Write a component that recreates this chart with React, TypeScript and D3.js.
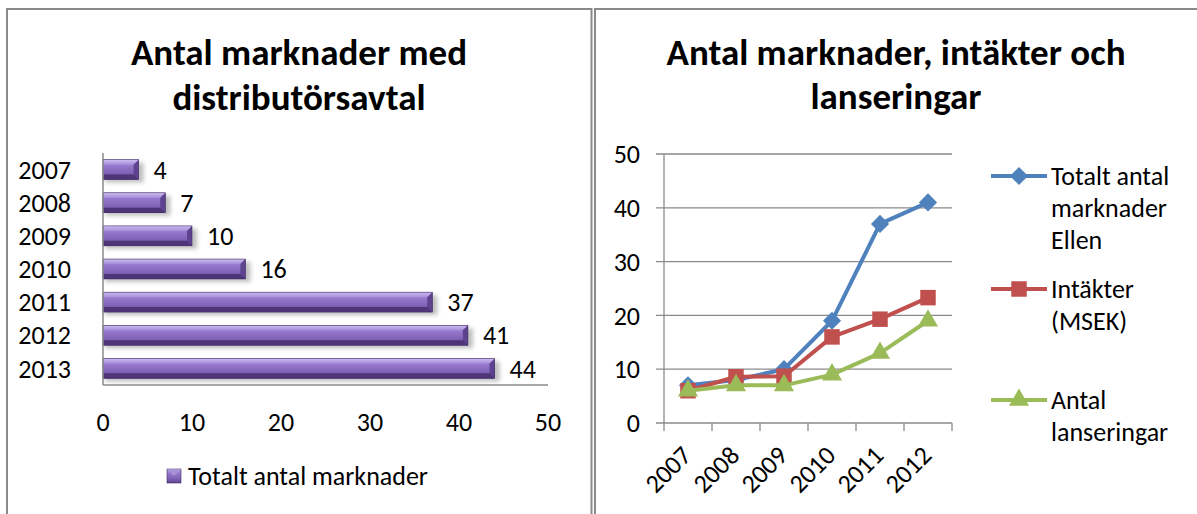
import React from "react";
import * as d3 from "d3";

// left chart: markets with distributor agreements
const barYears = ["2007", "2008", "2009", "2010", "2011", "2012", "2013"];
const barValues = [4, 7, 10, 16, 37, 41, 44];
const barTicks = [0, 10, 20, 30, 40, 50];

// right chart: markets, revenue and launches
const lineYears = ["2007", "2008", "2009", "2010", "2011", "2012"];
const totalMarkets = [7, 8, 10, 19, 37, 41];
const revenue = [6, 8.6, 8.7, 16, 19.3, 23.3];
const launches = [6, 7, 7, 9, 13, 19];
const lineTicks = [0, 10, 20, 30, 40, 50];

const FONT = "Carlito, Calibri, Lato, sans-serif";
const W = 1197;
const H = 514;
const LBL = 26; // label font size
const TTL = 37; // title font size

const series = [
  { key: "total", label: ["Totalt antal", "marknader", "Ellen"], values: totalMarkets, color: "#4F81BD", symbol: "diamond", legendY: 176 },
  { key: "rev", label: ["Intäkter", "(MSEK)"], values: revenue, color: "#C0504D", symbol: "square", legendY: 289 },
  { key: "launch", label: ["Antal", "lanseringar"], values: launches, color: "#9BBB59", symbol: "triangle", legendY: 400 },
];

function marker(type: string) {
  if (type === "diamond") return d3.symbol(d3.symbolSquare, 165)();
  if (type === "square") return d3.symbol(d3.symbolSquare, 240)();
  return d3.symbol(d3.symbolTriangle, 175)();
}

function BarChart() {
  const x = d3.scaleLinear().domain([0, 50]).range([103, 548]);
  const y = d3.scaleBand<string>().domain(barYears).range([153, 385]).paddingInner(0.4).paddingOuter(0.2);
  const bh = y.bandwidth();
  const bev = 5;

  return (
    <g>
      <rect x={7} y={9} width={584.5} height={H + 20} fill="#fff" stroke="#8a8a8a" strokeWidth={2} />
      <text x={299} y={65} textAnchor="middle" fontSize={TTL} fontWeight="bold">Antal marknader med</text>
      <text x={299} y={110} textAnchor="middle" fontSize={TTL} fontWeight="bold">distributörsavtal</text>

      {barYears.map((yr, i) => {
        const y0 = y(yr)!;
        const x0 = x(0);
        const x1 = x(barValues[i]);
        return (
          <g key={yr}>
            <rect x={x0 + 2} y={y0 + 3} width={x1 - x0 + 3} height={bh} fill="#000" opacity={0.25} filter="url(#blur)" />
            <rect x={x0} y={y0} width={x1 - x0} height={bh} fill="url(#barGrad)" />
            <polygon points={`${x0},${y0} ${x1},${y0} ${x1 - bev},${y0 + bev} ${x0},${y0 + bev}`} fill="url(#topGrad)" />
            <polygon points={`${x0},${y0 + bh} ${x1},${y0 + bh} ${x1 - bev},${y0 + bh - bev} ${x0},${y0 + bh - bev}`} fill="#4e3578" />
            <polygon points={`${x1},${y0} ${x1},${y0 + bh} ${x1 - bev},${y0 + bh - bev} ${x1 - bev},${y0 + bev}`} fill="#5d4290" />
            <rect x={x0} y={y0} width={x1 - x0} height={bh} fill="none" stroke="#3f2a63" strokeWidth={0.6} />
            <text x={x1 + 15} y={y0 + bh / 2} dy="0.35em" fontSize={LBL}>{barValues[i]}</text>
            <text x={71} y={y0 + bh / 2} dy="0.35em" fontSize={LBL} textAnchor="end">{yr}</text>
          </g>
        );
      })}

      <line x1={x(0)} x2={x(0)} y1={153} y2={385} stroke="#8a8a8a" strokeWidth={1.5} />
      <line x1={x(0)} x2={x(50)} y1={385} y2={385} stroke="#8a8a8a" strokeWidth={1.5} />
      {barTicks.map((t) => (
        <text key={t} x={x(t)} y={422} dy="0.35em" fontSize={LBL} textAnchor="middle">{t}</text>
      ))}

      <g>
        <rect x={167} y={469} width={14} height={14} fill="url(#barGrad)" stroke="#3f2a63" strokeWidth={0.6} />
        <polygon points="167,469 181,469 174,476" fill="#a892d6" />
        <text x={188} y={476} dy="0.35em" fontSize={LBL}>Totalt antal marknader</text>
      </g>
    </g>
  );
}

function LineChart() {
  const x = d3.scaleBand<string>().domain(lineYears).range([664, 952]);
  const y = d3.scaleLinear().domain([0, 50]).range([423, 154]);
  const cx = (yr: string) => x(yr)! + x.bandwidth() / 2;
  const line = d3
    .line<number>()
    .x((_, i) => cx(lineYears[i]))
    .y((d) => y(d));
  const bounds = [...lineYears.map((yr) => x(yr)!), 952];

  return (
    <g>
      <rect x={595} y={9} width={640} height={H + 20} fill="#fff" stroke="#8a8a8a" strokeWidth={2} />
      <text x={896} y={65} textAnchor="middle" fontSize={TTL} fontWeight="bold">Antal marknader, intäkter och</text>
      <text x={896} y={109} textAnchor="middle" fontSize={TTL} fontWeight="bold">lanseringar</text>

      {lineTicks.map((t) => (
        <g key={t}>
          <line x1={656} x2={952} y1={y(t)} y2={y(t)} stroke="#8a8a8a" strokeWidth={1.3} />
          <text x={640} y={y(t)} dy="0.35em" fontSize={LBL} textAnchor="end">{t}</text>
        </g>
      ))}
      <line x1={664} x2={664} y1={154} y2={423} stroke="#8a8a8a" strokeWidth={1.3} />
      {bounds.map((bx, i) => (
        <line key={i} x1={bx} x2={bx} y1={423} y2={431} stroke="#8a8a8a" strokeWidth={1.3} />
      ))}
      {lineYears.map((yr) => (
        <text key={yr} transform={`translate(${cx(yr) + 5},${457}) rotate(-45)`} fontSize={LBL} textAnchor="end">{yr}</text>
      ))}

      {series.map((s) => (
        <g key={s.key}>
          <path d={line(s.values)!} fill="none" stroke={s.color} strokeWidth={4} strokeLinejoin="round" />
          {s.values.map((v, i) => (
            <path
              key={i}
              d={marker(s.symbol)!}
              transform={`translate(${cx(lineYears[i])},${y(v)})${s.symbol === "diamond" ? " rotate(45)" : ""}`}
              fill={s.color}
            />
          ))}
        </g>
      ))}

      {series.map((s) => (
        <g key={s.key + "-leg"}>
          <line x1={991} x2={1047} y1={s.legendY} y2={s.legendY} stroke={s.color} strokeWidth={4} />
          <path d={marker(s.symbol)!} transform={`translate(1019,${s.legendY})${s.symbol === "diamond" ? " rotate(45)" : ""}`} fill={s.color} />
          {s.label.map((l, j) => (
            <text key={j} x={1051} y={s.legendY + j * 32} dy="0.35em" fontSize={LBL}>{l}</text>
          ))}
        </g>
      ))}
    </g>
  );
}

export default function App() {
  return (
    <svg width={W} height={H} style={{ position: "absolute", left: 0, top: 0, background: "#fff" }} fontFamily={FONT}>
      <defs>
        <linearGradient id="barGrad" x1="0" y1="0" x2="0" y2="1">
          <stop offset="0" stopColor="#b7a1e3" />
          <stop offset="0.3" stopColor="#9679cc" />
          <stop offset="0.7" stopColor="#7e60b4" />
          <stop offset="1" stopColor="#5f4491" />
        </linearGradient>
        <linearGradient id="topGrad" x1="0" y1="0" x2="0" y2="1">
          <stop offset="0" stopColor="#cdbdf0" />
          <stop offset="1" stopColor="#a68ddb" />
        </linearGradient>
        <filter id="blur" x="-10%" y="-50%" width="120%" height="200%">
          <feGaussianBlur stdDeviation="2" />
        </filter>
      </defs>
      <rect width={W} height={H} fill="#fff" />
      <BarChart />
      <LineChart />
    </svg>
  );
}
